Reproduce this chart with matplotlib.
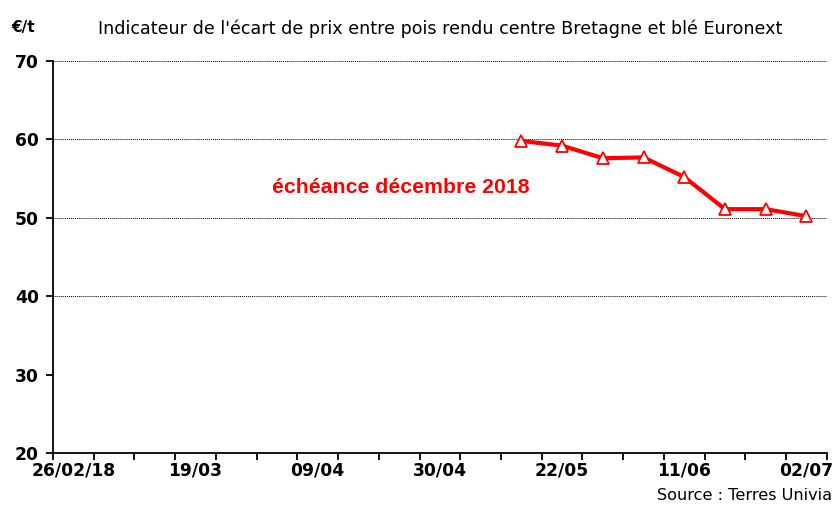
import matplotlib
matplotlib.use('Agg')
import matplotlib.pyplot as plt
import numpy as np

plt.rcParams['font.family'] = ['DejaVu Sans']

# Semaines (axe de catégories) et écart de prix (€/t)
semaines = ['26/02/18', '05/03', '12/03', '19/03', '26/03', '02/04', '09/04',
            '16/04', '23/04', '30/04', '07/05', '14/05', '22/05', '28/05',
            '04/06', '11/06', '18/06', '25/06', '02/07']
ecart = [None, None, None, None, None, None, None, None, None, None, None,
         59.8, 59.2, 57.6, 57.7, 55.2, 51.1, 51.1, 50.2]
grille = [40, 50, 60, 70]

x = np.arange(len(semaines)) + 0.5
y = np.array([np.nan if v is None else v for v in ecart])

fig = plt.figure(figsize=(8.33, 5.19), dpi=100)
ax = fig.add_axes([0.0636, 0.1272, 0.929, 0.7553])

for g in grille:
    ax.axhline(g, color='black', lw=0.7, ls=(0, (1, 1)), zorder=1)

ax.plot(x, y, color='#ff0000', lw=3, marker='^', ms=8, mfc='white',
        mec='#ff0000', mew=1.3, zorder=3)

ax.set_xlim(0, len(semaines))
ax.set_ylim(20, 70)
ax.set_yticks([20, 30, 40, 50, 60, 70])
ax.set_xticks(np.arange(len(semaines) + 1))
ax.set_xticklabels([])
ax.set_xticks(x[::3], minor=True)
ax.set_xticklabels(semaines[::3], minor=True, fontsize=12.3, fontweight='bold')
ax.tick_params(axis='x', which='minor', length=0, pad=6)
ax.tick_params(axis='x', which='major', length=5, width=1.3, direction='out')
ax.tick_params(axis='y', length=5, width=1.3, direction='out', pad=5)
for t in ax.get_yticklabels():
    t.set_fontsize(12.3)
    t.set_fontweight('bold')

for s in ['top', 'right']:
    ax.spines[s].set_visible(False)
for s in ['left', 'bottom']:
    ax.spines[s].set_linewidth(1.3)

fig.text(0.014, 0.947, '€/t', fontsize=11, fontweight='bold', va='center')
fig.text(0.528, 0.945, "Indicateur de l'écart de prix entre pois rendu centre Bretagne et blé Euronext",
         fontsize=12.6, ha='center', va='center')
ax.text(0.450, 0.676, 'échéance décembre 2018', transform=ax.transAxes,
        color='#ff0000', fontsize=15.3, fontweight='bold', ha='center', va='center',
        family='Liberation Sans')
fig.text(0.999, 0.045, 'Source : Terres Univia', fontsize=11.6, ha='right', va='center')

fig.savefig('out.png', dpi=100)
